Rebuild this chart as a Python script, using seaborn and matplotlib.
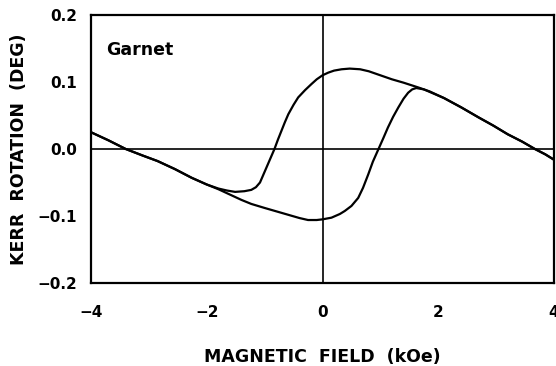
import matplotlib
matplotlib.use("Agg")
import matplotlib.pyplot as plt
import seaborn as sns
import pandas as pd

# Descending branch (field swept from +4 to -4 kOe)
desc_field = [4.0, 3.85, 3.67, 3.45, 3.2, 2.95, 2.7, 2.4, 2.1, 1.85, 1.65, 1.4,
              1.2, 1.0, 0.8, 0.65, 0.47, 0.33, 0.2, 0.1, 0.0, -0.1, -0.19, -0.3,
              -0.42, -0.5, -0.59, -0.65, -0.71, -0.77, -0.83, -0.9, -0.97, -1.03,
              -1.08, -1.15, -1.23, -1.35, -1.51, -1.65, -1.8, -2.0, -2.26, -2.55,
              -2.85, -3.1, -3.4, -3.7, -4.0]
desc_kerr = [-0.016, -0.008, 0.0, 0.011, 0.022, 0.035, 0.047, 0.062, 0.076, 0.086,
             0.092, 0.099, 0.104, 0.110, 0.116, 0.119, 0.120, 0.119, 0.117, 0.114,
             0.110, 0.104, 0.097, 0.088, 0.077, 0.066, 0.052, 0.040, 0.027, 0.014,
             0.0, -0.014, -0.028, -0.040, -0.050, -0.057, -0.061, -0.063, -0.064,
             -0.062, -0.059, -0.053, -0.043, -0.030, -0.018, -0.010, 0.0, 0.013,
             0.025]

# Ascending branch (field swept from -4 to +4 kOe)
asc_field = [-4.0, -3.7, -3.4, -3.1, -2.85, -2.55, -2.26, -2.0, -1.8, -1.6, -1.4,
             -1.23, -1.0, -0.8, -0.6, -0.4, -0.25, -0.1, 0.0, 0.155, 0.3, 0.385,
             0.5, 0.617, 0.7, 0.79, 0.87, 0.96, 1.05, 1.13, 1.22, 1.31, 1.4, 1.48,
             1.55, 1.62, 1.75, 2.1, 2.4, 2.7, 2.95, 3.2, 3.45, 3.67, 3.85, 4.0]
asc_kerr = [0.025, 0.013, 0.0, -0.010, -0.018, -0.030, -0.043, -0.053, -0.060,
            -0.068, -0.076, -0.082, -0.088, -0.093, -0.098, -0.103, -0.106, -0.106,
            -0.105, -0.1025, -0.097, -0.0925, -0.085, -0.073, -0.058, -0.038,
            -0.019, -0.0015, 0.016, 0.032, 0.048, 0.062, 0.075, 0.084, 0.089,
            0.091, 0.089, 0.076, 0.062, 0.047, 0.035, 0.022, 0.011, 0.0, -0.008,
            -0.016]

x_ticks = [-4, -2, 0, 2, 4]
x_tick_labels = ["\u22124", "\u22122", "0", "2", "4"]
y_ticks = [-0.2, -0.1, 0.0, 0.1, 0.2]
y_tick_labels = ["\u22120.2", "\u22120.1", "0.0", "0.1", "0.2"]

sns.set_style("white")
plt.rcParams["font.family"] = ["DejaVu Sans"]
plt.rcParams["font.weight"] = "bold"

fig = plt.figure(figsize=(5.56, 3.66), dpi=100)
ax = fig.add_axes([91 / 556, 1 - 283 / 366, 463 / 556, 268 / 366])

df_desc = pd.DataFrame({"field": desc_field, "kerr": desc_kerr})
df_asc = pd.DataFrame({"field": asc_field, "kerr": asc_kerr})

ax.axhline(0, color="black", lw=1.2, zorder=1)
ax.axvline(0, color="black", lw=1.2, zorder=1)

sns.lineplot(data=df_desc, x="field", y="kerr", sort=False, estimator=None,
             color="black", lw=1.6, ax=ax)
sns.lineplot(data=df_asc, x="field", y="kerr", sort=False, estimator=None,
             color="black", lw=1.6, ax=ax)

ax.set_xlim(-4, 4)
ax.set_ylim(-0.2, 0.2)
ax.set_xticks(x_ticks)
ax.set_xticklabels(x_tick_labels, fontsize=11, fontweight="bold")
ax.set_yticks(y_ticks)
ax.set_yticklabels(y_tick_labels, fontsize=11, fontweight="bold")
ax.tick_params(axis="x", direction="in", length=4, width=1.2, pad=16, colors="black")
ax.tick_params(axis="y", direction="in", length=4, width=1.2, pad=10, colors="black")

for s in ax.spines.values():
    s.set_color("black")
    s.set_linewidth(1.6)

ax.set_xlabel("MAGNETIC  FIELD  (kOe)", fontsize=12.5, fontweight="bold", color="black")
ax.set_ylabel("KERR  ROTATION  (DEG)", fontsize=12.5, fontweight="bold", color="black")
ax.xaxis.set_label_coords(0.5, -0.243)
ax.yaxis.set_label_coords(-0.135, 0.5)

ax.text(0.032, 0.851, "Garnet", transform=ax.transAxes, fontsize=12.5,
        fontweight="bold", ha="left", va="baseline", color="black")

fig.savefig("out.png", dpi=100)
